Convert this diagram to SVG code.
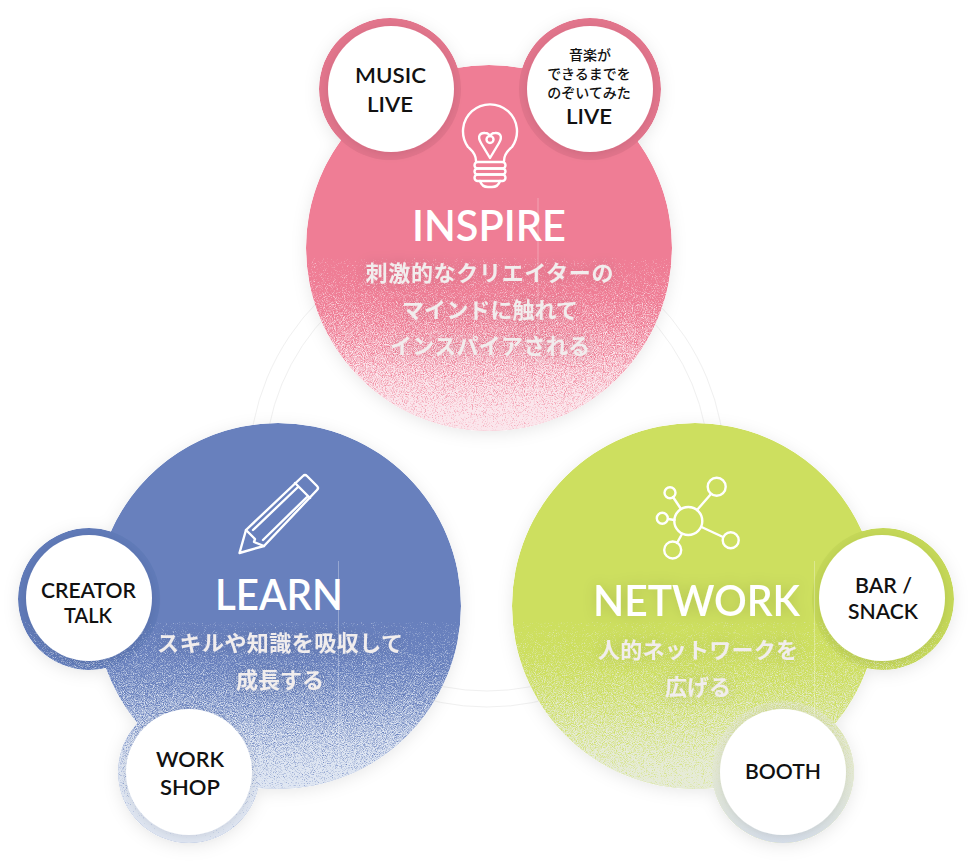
<svg xmlns="http://www.w3.org/2000/svg" width="972" height="861" viewBox="0 0 972 861">
<style>
text{font-family:"Lato","Noto Sans CJK JP",sans-serif}
.w{fill:#fff}
.lab{fill:#111;font-size:21px;font-weight:600;text-anchor:middle}
.jl{fill:#111;font-size:14px;font-weight:500;text-anchor:middle;font-family:"Noto Sans CJK JP",sans-serif}
.title{fill:#fff;font-size:43px;font-weight:600;text-anchor:middle}
.sub{fill:#f1eded;font-size:22px;font-weight:700;text-anchor:middle;font-family:"Noto Sans CJK JP",sans-serif}
.ic{fill:none;stroke:#fff;stroke-width:2.4;stroke-linejoin:round;stroke-linecap:round}
.seam{stroke:#fff;stroke-opacity:.3;stroke-width:1}
.ring{fill:none;stroke:#f0f0f0;stroke-width:1}
</style>
<defs>
<linearGradient id="fade" x1="0" y1="0" x2="0" y2="1">
<stop offset="0" stop-color="#fff" stop-opacity=".18"/>
<stop offset=".78" stop-color="#fff" stop-opacity=".84"/>
<stop offset="1" stop-color="#fff" stop-opacity="1"/>
</linearGradient>
<linearGradient id="boothRing" x1="0" y1="0" x2="0" y2="1">
<stop offset="0" stop-color="#e3e8c8" stop-opacity="0"/>
<stop offset=".5" stop-color="#e3e8d4" stop-opacity=".7"/>
<stop offset="1" stop-color="#d6deea"/>
</linearGradient>
<filter id="soft" x="-20%" y="-20%" width="140%" height="140%"><feDropShadow dx="0" dy="3" stdDeviation="8" flood-color="#000" flood-opacity=".09"/></filter>
<filter id="wsh" x="-30%" y="-30%" width="160%" height="160%"><feDropShadow dx="0" dy="2" stdDeviation="5" flood-color="#000" flood-opacity=".09"/></filter>
<filter id="tsh" x="-20%" y="-40%" width="140%" height="180%"><feDropShadow dx="0" dy="0" stdDeviation="7" flood-color="#000" flood-opacity=".14"/></filter>
<filter id="grainP" x="0" y="0" width="1" height="1" color-interpolation-filters="sRGB">
<feTurbulence type="fractalNoise" baseFrequency="1.1" numOctaves="2" seed="3" result="n"/>
<feColorMatrix in="n" type="matrix" values="0 0 0 0 0 0 0 0 0 0 0 0 0 0 0 1 0 0 0 0" result="na"/>
<feComposite in="SourceAlpha" in2="na" operator="arithmetic" k1="0" k2="2.2" k3="2.2" k4="-1.75" result="t"/>
<feFlood flood-color="#fbe6ec"/><feComposite in2="t" operator="in"/>
</filter>
<filter id="grainB" x="0" y="0" width="1" height="1" color-interpolation-filters="sRGB">
<feTurbulence type="fractalNoise" baseFrequency="1.1" numOctaves="2" seed="7" result="n"/>
<feColorMatrix in="n" type="matrix" values="0 0 0 0 0 0 0 0 0 0 0 0 0 0 0 1 0 0 0 0" result="na"/>
<feComposite in="SourceAlpha" in2="na" operator="arithmetic" k1="0" k2="2.2" k3="2.2" k4="-1.75" result="t"/>
<feFlood flood-color="#dfe6f2"/><feComposite in2="t" operator="in"/>
</filter>
<filter id="grainG" x="0" y="0" width="1" height="1" color-interpolation-filters="sRGB">
<feTurbulence type="fractalNoise" baseFrequency="1.1" numOctaves="2" seed="11" result="n"/>
<feColorMatrix in="n" type="matrix" values="0 0 0 0 0 0 0 0 0 0 0 0 0 0 0 1 0 0 0 0" result="na"/>
<feComposite in="SourceAlpha" in2="na" operator="arithmetic" k1="0" k2="2.2" k3="2.2" k4="-1.75" result="t"/>
<feFlood flood-color="#e6ebd8"/><feComposite in2="t" operator="in"/>
</filter>
<clipPath id="cP"><circle cx="489" cy="248" r="183"/><circle cx="390" cy="89" r="71"/><circle cx="590" cy="89" r="71"/></clipPath>
<clipPath id="cB"><circle cx="278" cy="606" r="183"/><circle cx="89" cy="599" r="71"/><circle cx="189" cy="772" r="71"/></clipPath>
<clipPath id="cG"><circle cx="695" cy="606" r="183"/><circle cx="883" cy="599" r="71"/><circle cx="783" cy="772" r="71"/></clipPath>
</defs>
<rect width="972" height="861" fill="#fff"/>
<g id="connectors">
<circle class="ring" cx="487" cy="469" r="238"/>
<circle class="ring" cx="487" cy="469" r="222"/>
</g>
<g id="inspire">
<g filter="url(#soft)"><g clip-path="url(#cP)">
<circle cx="489" cy="248" r="183" fill="#ef7d95"/>
<circle cx="390" cy="89" r="71" fill="#e2748c"/>
<circle cx="590" cy="89" r="71" fill="#e2748c"/>
<rect x="300" y="258" width="380" height="223" fill="url(#fade)" filter="url(#grainP)"/>
</g></g>
<line class="seam" x1="538" y1="198" x2="538" y2="400"/>
<path class="ic" d="M476 161C476 153 471 150 468 147A27 27 0 1 1 512 147C509 150 504 153 504 161"/>
<path class="ic" d="M490 158L481 143C477 136 480 132.500 485 133C488 133 490 135 490 136C490 135 492 133 495 133C500 132.500 503 136 499 143Z"/>
<circle class="ic" cx="490" cy="139.500" r="3.500"/>
<rect class="ic" x="474.500" y="162" width="31" height="6.500" rx="3.200"/>
<rect class="ic" x="474.500" y="168.500" width="31" height="6" rx="3"/>
<rect class="ic" x="474.500" y="174.500" width="31" height="6.500" rx="3.200"/>
<path class="ic" d="M480 181Q482 187 488 187H492Q498 187 500 181"/>
<text class="title" x="489" y="241" textLength="154" lengthAdjust="spacingAndGlyphs">INSPIRE</text>
<g filter="url(#tsh)">
<text class="sub" x="489.500" y="281" textLength="248">刺激的なクリエイターの</text>
<text class="sub" x="490" y="318" textLength="176">マインドに触れて</text>
<text class="sub" x="490" y="354" textLength="200">インスパイアされる</text>
</g>
</g>
<g id="music-live">
<circle cx="391" cy="89" r="63" class="w" filter="url(#wsh)"/>
<text class="lab" x="390.500" y="83" textLength="71" lengthAdjust="spacingAndGlyphs">MUSIC</text>
<text class="lab" x="390" y="112" textLength="46" lengthAdjust="spacingAndGlyphs">LIVE</text>
</g>
<g id="ongaku-live">
<circle cx="590" cy="89" r="63" class="w" filter="url(#wsh)"/>
<text class="jl" x="590" y="60">音楽が</text>
<text class="jl" x="589" y="79">できるまでを</text>
<text class="jl" x="589" y="98">のぞいてみた</text>
<text class="lab" x="589" y="124" textLength="46" lengthAdjust="spacingAndGlyphs">LIVE</text>
</g>
<g id="learn">
<g filter="url(#soft)"><g clip-path="url(#cB)">
<circle cx="278" cy="606" r="183" fill="#6880bd"/>
<circle cx="89" cy="599" r="71" fill="#607ab8"/>
<circle cx="189" cy="772" r="71" fill="#6880bd"/>
<rect x="0" y="622" width="480" height="223" fill="url(#fade)" filter="url(#grainB)"/>
</g></g>
<line class="seam" x1="338.500" y1="561" x2="338.500" y2="770"/>
<path class="ic" d="M239.500 553L246 530L303 476Q305 474 307 476L317 486Q319 488 317 490L264 546Z"/>
<path class="ic" d="M295 483L310 498M253 530L298 487M263 540L307 497M246 530L255 539L254 542L264 546"/>
<text class="title" x="279" y="610" textLength="128" lengthAdjust="spacingAndGlyphs">LEARN</text>
<g filter="url(#tsh)">
<text class="sub" x="280" y="651" textLength="246">スキルや知識を吸収して</text>
<text class="sub" x="280" y="688" textLength="88">成長する</text>
</g>
</g>
<g id="creator-talk">
<circle cx="89" cy="598" r="63" class="w" filter="url(#wsh)"/>
<text class="lab" x="88.500" y="597.500" textLength="95" lengthAdjust="spacingAndGlyphs">CREATOR</text>
<text class="lab" x="88" y="623" textLength="48" lengthAdjust="spacingAndGlyphs">TALK</text>
</g>
<g id="work-shop">
<circle cx="189" cy="772" r="63" class="w" filter="url(#wsh)"/>
<text class="lab" x="190" y="767" textLength="68" lengthAdjust="spacingAndGlyphs">WORK</text>
<text class="lab" x="190" y="795" textLength="60" lengthAdjust="spacingAndGlyphs">SHOP</text>
</g>
<g id="network">
<g filter="url(#soft)"><g clip-path="url(#cG)">
<circle cx="695" cy="606" r="183" fill="#cddf5f"/>
<circle cx="883" cy="599" r="71" fill="#c5d858"/>
<circle cx="783" cy="772" r="71" fill="#d2de88"/>
<rect x="500" y="622" width="472" height="223" fill="url(#fade)" filter="url(#grainG)"/>
<circle cx="783" cy="772" r="71" fill="url(#boothRing)"/>
</g></g>
<line class="seam" x1="814.500" y1="561" x2="814.500" y2="770"/>
<circle class="ic" cx="688.300" cy="521" r="14"/>
<circle class="ic" cx="716.700" cy="486.700" r="9"/>
<circle class="ic" cx="670" cy="492.700" r="5.500"/>
<circle class="ic" cx="662.300" cy="518.300" r="5.500"/>
<circle class="ic" cx="672.700" cy="550" r="8.500"/>
<circle class="ic" cx="730.700" cy="540.300" r="8"/>
<path class="ic" d="M697 510L711 494M673 497L681 509M668 519L674.500 520M682 534L677 543M701.500 527L723 537"/>
<g filter="url(#tsh)">
<text class="title" x="696.500" y="616" textLength="207" lengthAdjust="spacingAndGlyphs">NETWORK</text>
<text class="sub" x="698" y="658" textLength="200">人的ネットワークを</text>
<text class="sub" x="698" y="695" textLength="66">広げる</text>
</g>
</g>
<g id="bar-snack">
<circle cx="882" cy="598" r="63" class="w" filter="url(#wsh)"/>
<text class="lab" x="883.500" y="592.500" textLength="57" lengthAdjust="spacingAndGlyphs">BAR /</text>
<text class="lab" x="883" y="619" textLength="70" lengthAdjust="spacingAndGlyphs">SNACK</text>
</g>
<g id="booth">
<circle cx="783" cy="772" r="63" class="w" filter="url(#wsh)"/>
<text class="lab" x="783" y="779" textLength="76" lengthAdjust="spacingAndGlyphs">BOOTH</text>
</g>
</svg>
